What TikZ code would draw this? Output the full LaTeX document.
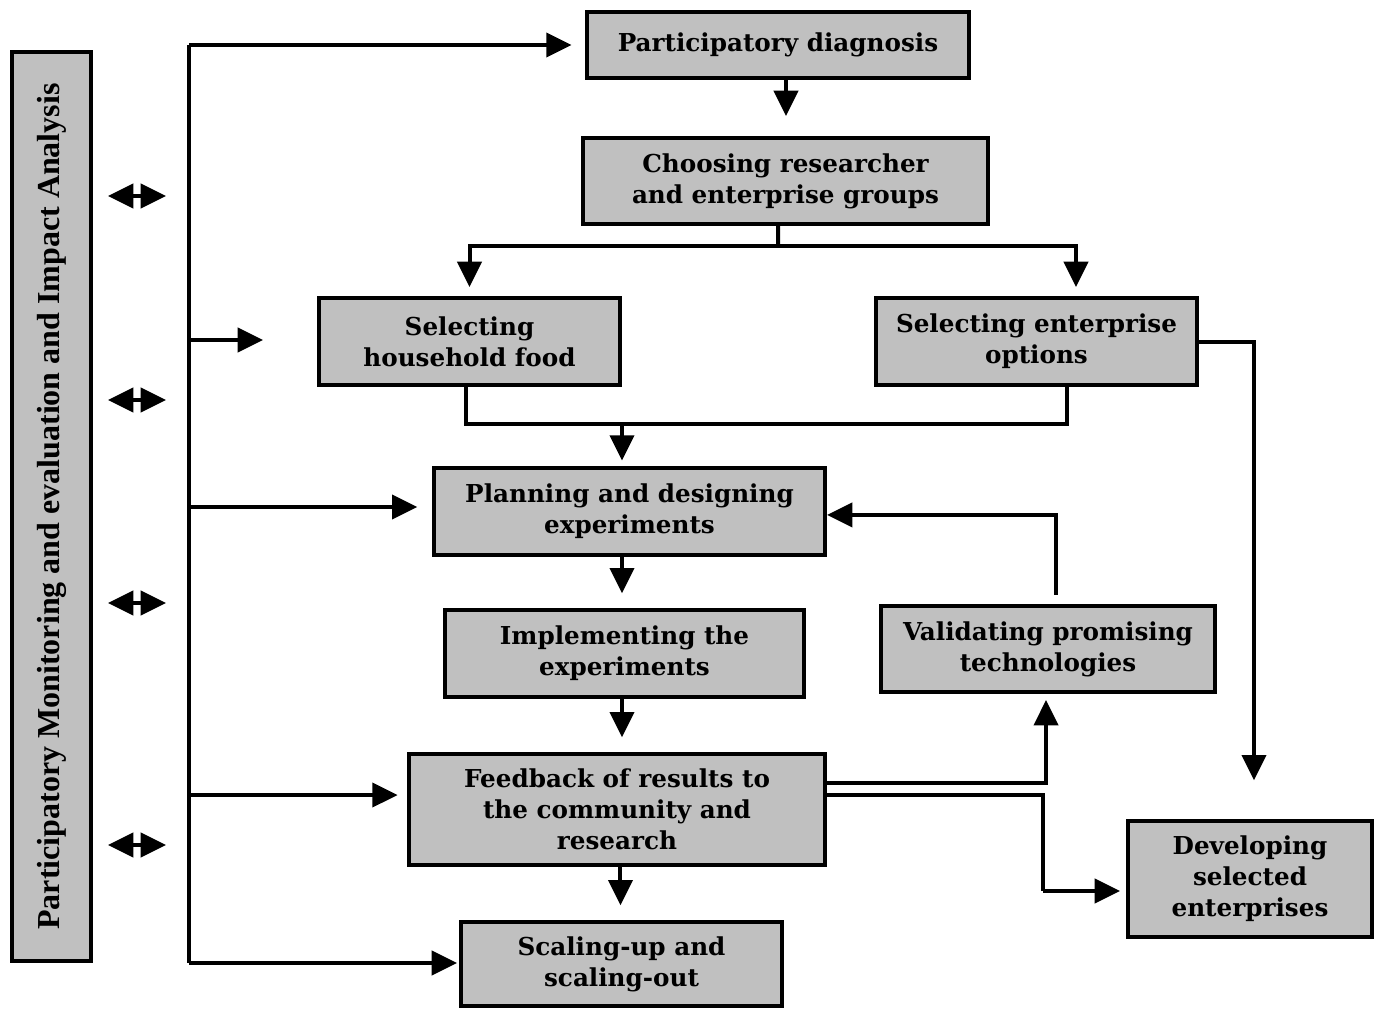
\documentclass[tikz,border=0pt]{standalone}
\usepackage{fontspec}
\setmainfont{DejaVu Serif}
\newfontfamily\sidefont{Liberation Serif}
\usetikzlibrary{arrows.meta}
\definecolor{boxgray}{HTML}{C0C0C0}

\begin{document}
\begin{tikzpicture}[x=0.75pt,y=-0.75pt,line width=3pt,
  box/.style={draw,fill=boxgray,align=center,inner sep=0pt,
     font=\fontsize{18.5}{23.25}\selectfont\bfseries},
  arr/.style={-{Triangle[length=19pt,width=18pt]}},
  dbl/.style={{Triangle[length=19pt,width=18pt]}-{Triangle[length=19pt,width=18pt]}}]
  \useasboundingbox (0,0) rectangle (1383,1010);
  % side label
  \node[draw,fill=boxgray,minimum width=59.25pt,minimum height=681.75pt,inner sep=0pt] (side) at (51.5,506.5){};
  \node[rotate=90,font=\fontsize{24}{28}\sidefont\bfseries] (sidetxt) at (side.center){Participatory Monitoring and evaluation and Impact Analysis};
  % boxes
  \node[box,minimum width=286.5pt,minimum height=49.5pt] (pd) at (778,45){Participatory diagnosis};
  \node[box,minimum width=303.75pt,minimum height=64.5pt] (cr) at (785.5,181){Choosing researcher\\and enterprise groups};
  \node[box,minimum width=225.75pt,minimum height=65.25pt] (sh) at (469.5,341.5){Selecting\\household food};
  \node[box,minimum width=240.75pt,minimum height=65.25pt] (se) at (1036.5,341.5){Selecting enterprise\\options};
  \node[box,minimum width=293.25pt,minimum height=65.25pt] (pl) at (629.5,511.5){Planning and designing\\experiments};
  \node[box,minimum width=269.25pt,minimum height=65.25pt] (im) at (624.5,653.5){Implementing the\\experiments};
  \node[box,minimum width=250.5pt,minimum height=64.5pt] (va) at (1048,649){Validating promising\\technologies};
  \node[box,minimum width=312pt,minimum height=83.25pt] (fb) at (617,809.5){Feedback of results to\\the community and\\research};
  \node[box,minimum width=240.75pt,minimum height=63pt] (sc) at (621.5,964){Scaling-up and\\scaling-out};
  \node[box,minimum width=183pt,minimum height=87pt] (de) at (1250,879){Developing\\selected\\enterprises};
  % trunk on the left
  \coordinate (ttop) at (189,45);
  \coordinate (tfree) at (189,340);
  \coordinate (tend) at (263,340);
  \coordinate (tpl) at (189,507);
  \coordinate (tfb) at (189,795);
  \coordinate (tbot) at (189,963);
  \draw (ttop) -- (tbot);
  \draw[arr,shorten >=10pt] (ttop) -- (pd.west);
  \draw[arr] (tfree) -- (tend);
  \draw[arr,shorten >=11pt] (tpl) -- (tpl -| pl.west);
  \draw[arr,shorten >=7pt] (tfb) -- (tfb -| fb.west);
  \draw[arr,shorten >=1.5pt] (tbot) -- (tbot -| sc.west);
  % double arrows
  \foreach \y [count=\i] in {196,400,603,845}{
    \coordinate (dl\i) at (108,\y);
    \coordinate (dr\i) at (166,\y);
    \draw[dbl] (dl\i) -- (dr\i);
  }
  % main flow
  \draw[arr,shorten >=15pt] ([xshift=6pt]pd.south) -- ([xshift=6pt]pd.south |- cr.north);
  \coordinate (split) at (778,246);
  \draw ([xshift=-5.6pt]cr.south) -- (split);
  \draw[arr,shorten >=6.75pt] (split) -| (sh.north);
  \draw[arr,shorten >=6.75pt] (split) -| ([xshift=29.6pt]se.north);
  \coordinate (merge) at (622,424);
  \draw ([xshift=-2.6pt]sh.south) |- (merge) -| ([xshift=22.9pt]se.south);
  \draw[arr,shorten >=4pt] (merge) -- (merge |- pl.north);
  \draw[arr,shorten >=11pt] (pl.south -| merge) -- (im.north -| merge);
  \draw[arr,shorten >=11pt] (im.south -| merge) -- (fb.north -| merge);
  \draw[arr,shorten >=11pt] ([xshift=2.6pt]fb.south) -- ([xshift=2.6pt]fb.south |- sc.north);
  % side branches
  \draw[arr,shorten <=7pt] ([xshift=6pt]va.north) |- ([yshift=-2.6pt]pl.east);
  \draw[arr,shorten >=4.5pt] ([yshift=19.9pt]fb.east) -| ([xshift=-1.5pt]va.south);
  \coordinate (kde) at (1043,891);
  \draw ([yshift=10.9pt]fb.east) -| (kde);
  \draw[arr,shorten >=4.5pt] (kde) -- (kde -| de.west);
  \draw[arr,shorten >=29pt] (se.east) -| ([xshift=3pt]de.north);
\end{tikzpicture}
\end{document}
